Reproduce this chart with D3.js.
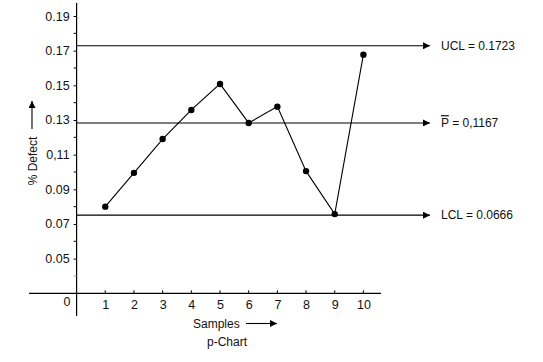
<!DOCTYPE html>
<html>
<head>
<meta charset="utf-8">
<script src="https://cdn.jsdelivr.net/npm/d3@7/dist/d3.min.js"></script>
<style>
  html, body { margin: 0; padding: 0; background: #fff; }
  svg text { font-family: "Liberation Sans", Arial, sans-serif; font-size: 12px; fill: #111; }
</style>
</head>
<body>
<svg id="chart" width="543" height="362"></svg>
<script>
// ---- data ----
const samples = [1, 2, 3, 4, 5, 6, 7, 8, 9, 10];
const defectRate = [0.080, 0.0995, 0.119, 0.1358, 0.1508, 0.1283, 0.1377, 0.1005, 0.0757, 0.1677];
const yTickValues = [0.19, 0.17, 0.15, 0.13, 0.11, 0.09, 0.07, 0.05];
const yTickLabels = ["0.19", "0.17", "0.15", "0.13", "0,11", "0.09", "0.07", "0.05"];
const yMinorTicks = [0.18, 0.16, 0.14, 0.12, 0.10, 0.08, 0.06, 0.04];
const controlNames = ["UCL", "P", "LCL"];
const controlPositions = [0.1728, 0.1283, 0.0751];
const controlLabels = ["UCL = 0.1723", " = 0,1167", "LCL = 0.0666"];

// ---- layout ----
const svg = d3.select("#chart");
const x = d3.scaleLinear().domain([0, 10]).range([76.6, 363.4]);
const y = d3.scaleLinear().domain([0.03, 0.19]).range([293.3, 16]);
const axisX = x(0), axisY = y(0.03);

const defs = svg.append("defs");
defs.append("marker").attr("id", "arr").attr("viewBox", "0 0 10 10")
  .attr("refX", 10).attr("refY", 5).attr("markerWidth", 9).attr("markerHeight", 7)
  .attr("markerUnits", "userSpaceOnUse").attr("orient", "auto")
  .append("path").attr("d", "M0,0 L10,5 L0,10 Z").attr("fill", "#000");

// axes lines
svg.append("line").attr("x1", axisX).attr("x2", axisX).attr("y1", 3).attr("y2", 316)
  .attr("stroke", "#000").attr("stroke-width", 1.2);
svg.append("line").attr("x1", 29).attr("x2", 381).attr("y1", axisY).attr("y2", axisY)
  .attr("stroke", "#000").attr("stroke-width", 1.2);

// y ticks
const yAxis = d3.axisLeft(y).tickValues(yTickValues)
  .tickFormat((d, i) => yTickLabels[i]).tickSize(3).tickPadding(4);
const yg = svg.append("g").attr("transform", `translate(${axisX},0)`).call(yAxis);
yg.select(".domain").remove();
yg.selectAll("line").attr("stroke", "#000");
yg.selectAll("text").attr("fill", "#111").style("font-size", "12.5px").style("font-family", "Liberation Sans, Arial, sans-serif");
svg.append("g").selectAll("line").data(yMinorTicks).join("line")
  .attr("x1", axisX - 3).attr("x2", axisX).attr("y1", d => y(d)).attr("y2", d => y(d))
  .attr("stroke", d => d === 0.04 ? "#999" : "#000");

// x ticks
const xAxis = d3.axisBottom(x).tickValues(samples).tickFormat(d3.format("d")).tickSize(0).tickPadding(7);
const xg = svg.append("g").attr("transform", `translate(0,${axisY})`).call(xAxis);
xg.select(".domain").remove();
xg.selectAll("text").attr("fill", "#111").style("font-size", "12.5px").style("font-family", "Liberation Sans, Arial, sans-serif");
svg.append("g").selectAll("line").data(samples).join("line")
  .attr("x1", d => x(d)).attr("x2", d => x(d)).attr("y1", axisY - 3).attr("y2", axisY)
  .attr("stroke", "#000");
svg.append("text").attr("x", 67).attr("y", 306).attr("text-anchor", "middle").style("font-size", "12.5px").text("0");

// control lines
const cg = svg.append("g");
cg.selectAll("line").data(controlPositions).join("line")
  .attr("x1", axisX).attr("x2", 430).attr("y1", d => y(d)).attr("y2", d => y(d))
  .attr("stroke", "#000").attr("stroke-width", 1.1).attr("marker-end", "url(#arr)");
const ct = cg.selectAll("text").data(controlPositions).join("text")
  .attr("x", 441).attr("y", d => y(d)).attr("dy", "0.35em");
ct.each(function(d, i) {
  const t = d3.select(this);
  if (controlNames[i] === "P") {
    t.append("tspan").style("text-decoration", "overline").text("P");
    t.append("tspan").text(controlLabels[i]);
  } else {
    t.text(controlLabels[i]);
  }
});

// data line
const line = d3.line().x((d, i) => x(samples[i])).y(d => y(d));
svg.append("path").datum(defectRate).attr("d", line)
  .attr("fill", "none").attr("stroke", "#000").attr("stroke-width", 1.1);
svg.append("g").selectAll("circle").data(defectRate).join("circle")
  .attr("cx", (d, i) => x(samples[i])).attr("cy", d => y(d)).attr("r", 3.2).attr("fill", "#000");

// axis titles
svg.append("text").attr("transform", "translate(37,161) rotate(-90)")
  .attr("text-anchor", "middle").text("% Defect");
svg.append("line").attr("x1", 32).attr("x2", 32).attr("y1", 129).attr("y2", 101)
  .attr("stroke", "#000").attr("stroke-width", 1.1).attr("marker-end", "url(#arr)");

svg.append("text").attr("x", 193).attr("y", 327.5).text("Samples");
svg.append("line").attr("x1", 246).attr("x2", 277).attr("y1", 323.5).attr("y2", 323.5)
  .attr("stroke", "#000").attr("stroke-width", 1.1).attr("marker-end", "url(#arr)");
svg.append("text").attr("x", 227).attr("y", 345.5).attr("text-anchor", "middle").text("p-Chart");
</script>
</body>
</html>
